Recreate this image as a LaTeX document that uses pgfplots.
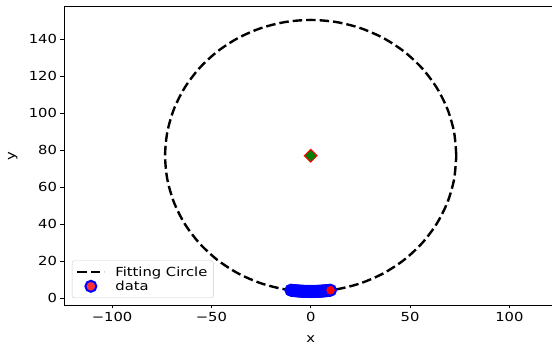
\documentclass[border=0pt]{standalone}
\usepackage{fontspec}
\setmainfont{DejaVu Sans}[FakeStretch=1.18]
\usepackage{pgfplots}
\pgfplotsset{compat=1.18}
\definecolor{mplblue}{HTML}{0000FF}
\definecolor{mplred}{HTML}{FF0000}
\definecolor{mplgreen}{HTML}{008000}
\pgfplotsset{
  circleimg/.style={legend image code/.code={\draw[##1] (0pt,0pt) -- (27pt,0pt); \path[draw=none,fill=none] (0pt,0pt) -- (36pt,0pt);}},
  markimg/.style={legend image code/.code={\draw[##1] plot coordinates {(13.5pt,0pt)}; \path[draw=none,fill=none] (0pt,0pt) -- (36pt,0pt);}},
}
\begin{document}
\begin{tikzpicture}
\begin{axis}[
  scale only axis,
  width=493.4pt, height=298.3pt,
  xmin=-124.2, xmax=124.2, ymin=-3.6, ymax=157.45,
  xtick={-100,-50,0,50,100},
  xticklabels={−100,−50,0,50,100},
  ytick={0,20,40,60,80,100,120,140},
  tick align=outside, tick pos=left,
  major tick length=3.5pt,
  every tick/.style={black, line width=0.8pt},
  axis line style={black, line width=0.8pt},
  font=\fontsize{12.5}{14}\selectfont,
  ticklabel style={font=\fontsize{12.5}{14}\selectfont},
  /pgf/number format/assume math mode=true,
  xlabel={x}, ylabel={y},
  every axis x label/.style={at={(axis description cs:0.5,-0.114)}, anchor=center},
  every axis y label/.style={at={(axis description cs:-0.104,0.5)}, anchor=center, rotate=90},
  legend style={at={(axis description cs:0.0162,0.0235)}, anchor=south west,
    draw=black!20, rounded corners=2pt, fill=white, fill opacity=0.8, text opacity=1,
    font=\fontsize{12.5}{13}\selectfont, row sep=-1pt, inner xsep=4pt, inner ysep=4pt},
  legend cell align=left,
]
\coordinate (O) at (rel axis cs:0,0);
\addplot[black, line width=2.4pt, dash pattern=on 9.5pt off 4pt, smooth, circleimg] coordinates {
(73.30,77.00) (72.19,89.73) (68.88,102.07) (63.48,113.65) (56.15,124.12)
(47.12,133.15) (36.65,140.48) (25.07,145.88) (12.73,149.19) (0,150.30)
(-12.73,149.19) (-25.07,145.88) (-36.65,140.48) (-47.12,133.15) (-56.15,124.12)
(-63.48,113.65) (-68.88,102.07) (-72.19,89.73) (-73.30,77.00) (-72.19,64.27)
(-68.88,51.93) (-63.48,40.35) (-56.15,29.88) (-47.12,20.85) (-36.65,13.52)
(-25.07,8.12) (-12.73,4.81) (0,3.70) (12.73,4.81) (25.07,8.12)
(36.65,13.52) (47.12,20.85) (56.15,29.88) (63.48,40.35) (68.88,51.93)
(72.19,64.27) (73.30,77.00)
};
\addlegendentry{Fitting Circle}
\addplot[only marks, mark=*, mark size=5.5pt,
  mark options={fill=mplred, draw=mplblue, line width=2pt}, markimg] coordinates {
(-10,4.38) (-9.5,4.32) (-9,4.25) (-8.5,4.19) (-8,4.14) (-7.5,4.08) (-7,4.03)
(-6.5,3.99) (-6,3.95) (-5.5,3.91) (-5,3.87) (-4.5,3.84) (-4,3.81) (-3.5,3.78)
(-3,3.76) (-2.5,3.74) (-2,3.73) (-1.5,3.72) (-1,3.71) (-0.5,3.70) (0,3.70)
(0.5,3.70) (1,3.71) (1.5,3.72) (2,3.73) (2.5,3.74) (3,3.76) (3.5,3.78)
(4,3.81) (4.5,3.84) (5,3.87) (5.5,3.91) (6,3.95) (6.5,3.99) (7,4.03)
(7.5,4.08) (8,4.14) (8.5,4.19) (9,4.25) (9.5,4.32) (10,4.38)
};
\addlegendentry{data}
\addplot[only marks, mark=square*, mark size=4.5pt,
  mark options={rotate=45, fill=mplgreen, draw=mplred, line width=1pt},
  forget plot] coordinates {(0,77)};
\end{axis}
\pgfresetboundingbox
\path ([shift={(-64pt,-42pt)}]O) rectangle ([shift={(488pt,305pt)}]O);
\end{tikzpicture}
\end{document}
